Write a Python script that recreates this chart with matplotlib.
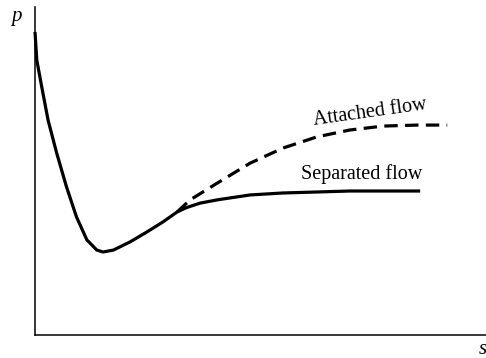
import matplotlib
matplotlib.use("Agg")
import matplotlib.pyplot as plt

# Pressure p along the surface coordinate s (arbitrary units)
s_common = [0.00, 0.04, 0.15, 0.29, 0.48, 0.70, 0.92, 1.15, 1.37, 1.51, 1.74, 2.11, 2.48, 2.84, 3.15]
p_common = [9.24, 8.38, 7.56, 6.55, 5.55, 4.51, 3.60, 2.90, 2.59, 2.53, 2.59, 2.84, 3.14, 3.45, 3.75]

s_separated = [3.35, 3.66, 4.04, 4.77, 5.50, 6.25, 6.98, 7.72, 8.54]
p_separated = [3.88, 4.02, 4.12, 4.27, 4.33, 4.36, 4.39, 4.39, 4.39]

s_attached = [3.44, 4.04, 4.77, 5.50, 6.25, 6.98, 7.72, 8.47, 9.14]
p_attached = [4.12, 4.63, 5.24, 5.70, 6.04, 6.25, 6.37, 6.40, 6.40]

label_separated = "Separated flow"
label_attached = "Attached flow"

plt.rcParams['font.family'] = ['Liberation Serif', 'DejaVu Serif']

fig = plt.figure(figsize=(4.86, 3.58), dpi=100)
ax = fig.add_axes([35 / 486, 23 / 358, 451 / 486, 328 / 358])
ax.set_xlim(0, 10)
ax.set_ylim(0, 10)

for side in ("top", "right"):
    ax.spines[side].set_visible(False)
for side in ("left", "bottom"):
    ax.spines[side].set_linewidth(1.1)
ax.set_xticks([])
ax.set_yticks([])

lw = 2.3
ax.plot(s_common + s_separated, p_common + p_separated, color="black", lw=lw,
        solid_capstyle="butt", solid_joinstyle="round", clip_on=False)
ax.plot([s_common[-1]] + s_attached, [p_common[-1]] + p_attached, color="black", lw=lw,
        dashes=(4.2, 2.3), dash_capstyle="butt", dash_joinstyle="round", clip_on=False)

ax.text(7.25, 4.91, label_separated, fontsize=14.5, ha="center", va="center")
ax.text(7.43, 6.78, label_attached, fontsize=14.5, ha="center", va="center",
        rotation=8, rotation_mode="anchor")

fig.text(16 / 486, 1 - 17 / 358, "p", fontsize=15, style="italic", ha="center", va="center")
fig.text(483 / 486, 1 - 350 / 358, "s", fontsize=15, style="italic", ha="center", va="center")

fig.savefig("out.png", dpi=100)
